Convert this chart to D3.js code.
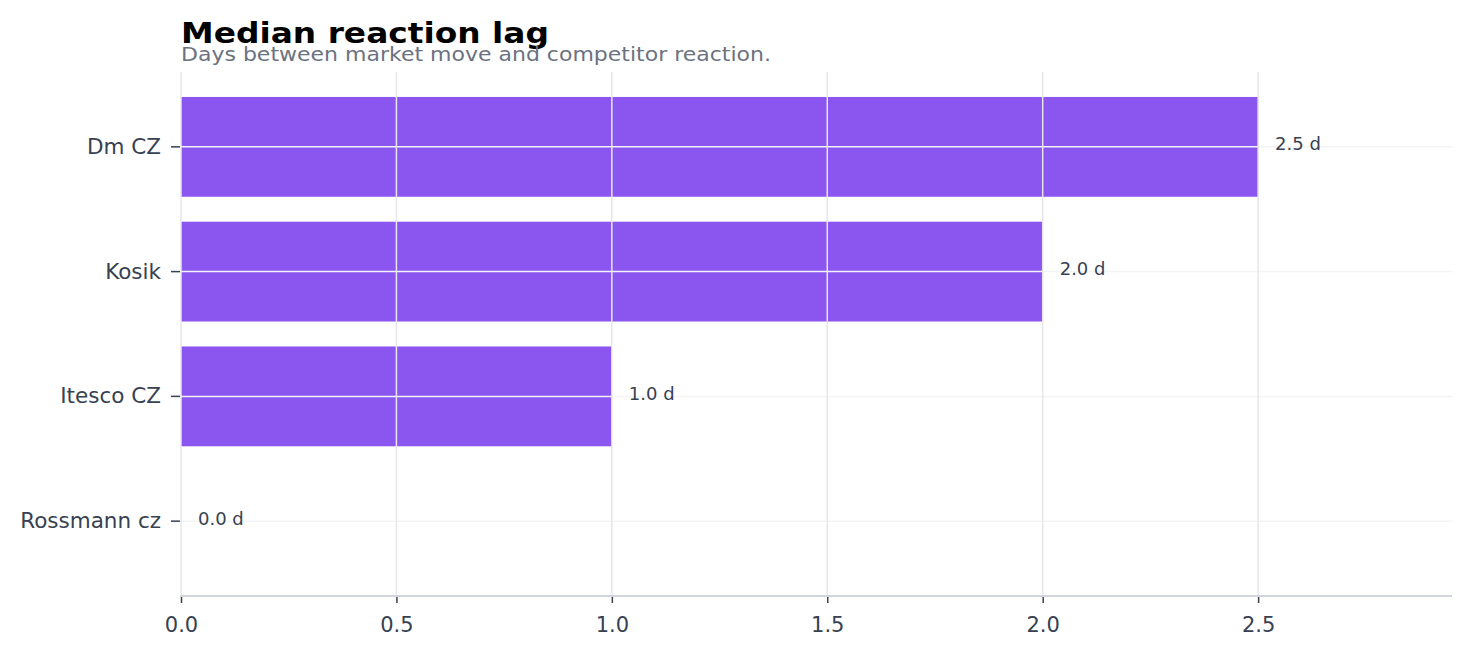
<!DOCTYPE html>
<html>
<head>
<meta charset="utf-8">
<script src="https://cdn.jsdelivr.net/npm/d3@7"></script>
<style>
  body { margin: 0; background: #fff; }
  svg text { font-family: "DejaVu Sans", sans-serif; }
  .axis path.domain { display: none; }
</style>
</head>
<body>
<div id="chart"></div>
<script>
// data
var competitors = ["Dm CZ", "Kosik", "Itesco CZ", "Rossmann cz"];
var lagDays = [2.5, 2.0, 1.0, 0.0];
var xTicks = [0, 0.5, 1, 1.5, 2, 2.5];

var W = 1472, H = 658;
var margin = {top: 72, right: 20, bottom: 62, left: 181};
var width = W - margin.left - margin.right,
    height = H - margin.top - margin.bottom;

var data = competitors.map(function(c, i) { return {name: c, value: lagDays[i]}; });

var svg = d3.select("#chart").append("svg")
    .attr("width", W)
    .attr("height", H);

// title + subtitle (glyphs a bit wider than tall in the reference)
svg.append("text")
    .attr("x", margin.left).attr("y", 42.5)
    .attr("textLength", 368).attr("lengthAdjust", "spacingAndGlyphs")
    .style("font-size", "29px").style("font-weight", "bold")
    .attr("fill", "#000")
    .text("Median reaction lag");
svg.append("text")
    .attr("x", margin.left).attr("y", 61)
    .attr("textLength", 590).attr("lengthAdjust", "spacingAndGlyphs")
    .style("font-size", "20px")
    .attr("fill", "#6b7280")
    .text("Days between market move and competitor reaction.");

var g = svg.append("g")
    .attr("transform", "translate(" + margin.left + "," + margin.top + ")");

var x = d3.scaleLinear()
    .domain([0, d3.max(lagDays) * 1.18])
    .range([0, width]);

var y = d3.scaleBand()
    .domain(competitors)
    .range([0, height])
    .padding(0.2);

// bars
g.selectAll(".bar")
    .data(data)
  .enter().append("rect")
    .attr("class", "bar")
    .attr("x", x(0))
    .attr("y", function(d) { return y(d.name); })
    .attr("width", function(d) { return x(d.value) - x(0); })
    .attr("height", y.bandwidth())
    .attr("fill", "#8b55f0");

// horizontal grid at band centres (on top of bars)
g.selectAll(".hgrid")
    .data(competitors)
  .enter().append("line")
    .attr("class", "hgrid")
    .attr("x1", 0).attr("x2", width)
    .attr("y1", function(d) { return y(d) + y.bandwidth() / 2; })
    .attr("y2", function(d) { return y(d) + y.bandwidth() / 2; })
    .attr("stroke", "#f3f4f6")
    .attr("stroke-width", 1.5);

// vertical grid
g.selectAll(".vgrid")
    .data(xTicks)
  .enter().append("line")
    .attr("class", "vgrid")
    .attr("x1", function(d) { return x(d); })
    .attr("x2", function(d) { return x(d); })
    .attr("y1", 0).attr("y2", height)
    .attr("stroke", "#e5e7eb")
    .attr("stroke-width", 1.5);

// value labels
g.selectAll(".val")
    .data(data)
  .enter().append("text")
    .attr("class", "val")
    .attr("x", function(d) { return x(d.value) + 17; })
    .attr("y", function(d) { return y(d.name) + y.bandwidth() / 2; })
    .attr("dy", "0.2em")
    .style("font-size", "18px")
    .attr("fill", "#374151")
    .text(function(d) { return d.value.toFixed(1) + " d"; });

// x axis
var xAxis = g.append("g")
    .attr("class", "axis axis--x")
    .attr("transform", "translate(0," + height + ")")
    .call(d3.axisBottom(x).tickValues(xTicks).tickFormat(d3.format(".1f")).tickSize(7).tickPadding(14));
xAxis.selectAll("text").style("font-size", "21px").attr("fill", "#374151");
xAxis.selectAll(".tick line").attr("stroke", "#374151").attr("stroke-width", 1.5);
g.append("line")
    .attr("x1", 0).attr("x2", width)
    .attr("y1", height).attr("y2", height)
    .attr("stroke", "#d1d5db")
    .attr("stroke-width", 2);

// y axis
var yAxis = g.append("g")
    .attr("class", "axis axis--y")
    .call(d3.axisLeft(y).tickSize(10).tickPadding(10));
yAxis.selectAll("text").style("font-size", "21.5px").attr("fill", "#374151");
yAxis.selectAll(".tick line").attr("stroke", "#374151").attr("stroke-width", 1.5)
    .attr("x1", -1);
</script>
</body>
</html>
